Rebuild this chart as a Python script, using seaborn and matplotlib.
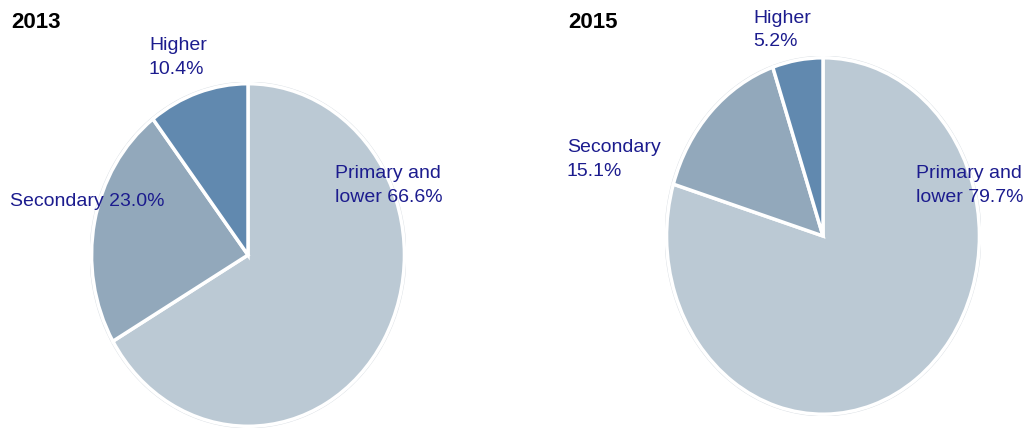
#Importing necessary libraries.
import matplotlib
matplotlib.use("Agg")
import matplotlib.pyplot as plt
from matplotlib.patches import Circle
import seaborn as sns

#Chart data.
years = ["2013", "2015"]
levels = ["Primary and\nlower", "Secondary", "Higher"]
shares_2013 = [66.6, 23.0, 10.4]
shares_2015 = [79.7, 15.1, 5.2]

sns.set_theme(style="white")
plt.rcParams['font.family'] = ['Liberation Sans', 'DejaVu Sans']

W, H = 1025, 432
fig = plt.figure(figsize=(W / 100, H / 100), dpi=100)
fig.patch.set_facecolor("white")

colors = ["#bbc9d4", "#92a8bb", "#6189af"]
label_color = "#1c1c8e"

def px_box(left, top, right, bottom):
  return [left / W, (H - bottom) / H, (right - left) / W, (bottom - top) / H]

def draw_pie(box, values):
  ax = fig.add_axes(box)
  ax.add_patch(Circle((0, 0), 1.0, facecolor="none", edgecolor="#d9dee3", linewidth=3, zorder=0))
  ax.pie(values, startangle=90, counterclock=False, colors=colors, radius=1.0,
         wedgeprops=dict(edgecolor="white", linewidth=2.5))
  ax.set_aspect("auto")
  ax.set_xlim(-1.01, 1.01)
  ax.set_ylim(-1.01, 1.01)
  ax.axis("off")
  return ax

def label(x, y, s, **kw):
  fig.text(x / W, 1 - y / H, s, fontsize=14, color=label_color, va="top", ha="left",
           linespacing=1.5, **kw)

#2013 pie.
draw_pie(px_box(90, 82, 406, 428), shares_2013)
fig.text(11 / W, 1 - 12 / H, years[0], fontsize=16, fontweight="bold", color="black", va="top")
label(335, 165, f"{levels[0]} {shares_2013[0]:.1f}%")
label(10, 193, f"{levels[1]} {shares_2013[1]:.1f}%")
label(149, 37, f"{levels[2]}\n{shares_2013[2]:.1f}%")

#2015 pie.
draw_pie(px_box(665, 56, 981, 416), shares_2015)
fig.text(568 / W, 1 - 12 / H, years[1], fontsize=16, fontweight="bold", color="black", va="top")
label(916, 165, f"{levels[0]} {shares_2015[0]:.1f}%")
label(567, 139, f"{levels[1]}\n{shares_2015[1]:.1f}%")
label(753, 10, f"{levels[2]}\n{shares_2015[2]:.1f}%")

fig.savefig("out.png", dpi=100, facecolor="white")
